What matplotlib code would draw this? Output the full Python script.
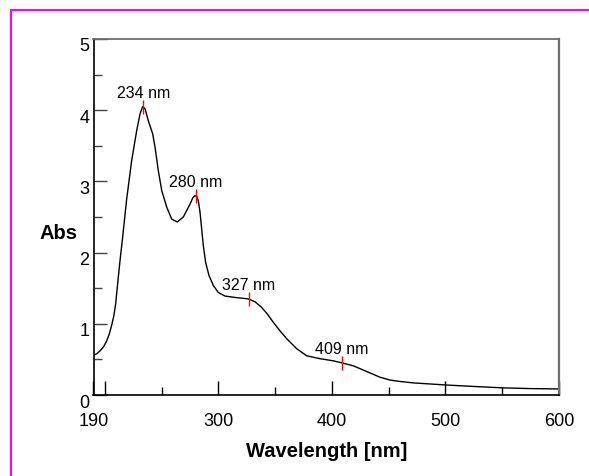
import matplotlib
matplotlib.use("Agg")
import matplotlib.pyplot as plt
import matplotlib.transforms as mtransforms
from matplotlib.patches import Rectangle

plt.rcParams['font.family'] = ['Liberation Sans', 'DejaVu Sans']

# spectrum
wavelength = [190, 193, 195.7, 199, 201.6, 204, 206, 208, 209.5, 211,
              213.3, 215.7, 219.2, 223.6, 228, 231, 233.3, 235.4, 238.3, 242.1,
              244.2, 247.1, 250.1, 254.5, 258.9, 263.8, 269.1, 275, 277.5, 279.4,
              281, 282.3, 283.8, 285.3, 286.7, 288.8, 291.7, 295.5, 299.9, 305.8,
              314.6, 326.3, 332.2, 338.1, 343, 348.4, 354.3, 360.2, 369, 377.8,
              389.5, 401.2, 409.1, 418.8, 430.6, 442.3, 451.1, 459.9, 471.7, 486.4,
              501, 525, 551, 575, 600]
absorb = [0.56, 0.58, 0.62, 0.68, 0.76, 0.86, 0.98, 1.12, 1.28, 1.52,
          1.88, 2.22, 2.75, 3.29, 3.71, 3.95, 4.05, 4.02, 3.85, 3.67,
          3.48, 3.15, 2.87, 2.64, 2.47, 2.43, 2.50, 2.68, 2.77, 2.80,
          2.79, 2.73, 2.57, 2.33, 2.10, 1.86, 1.68, 1.54, 1.44, 1.39,
          1.37, 1.35, 1.31, 1.23, 1.14, 1.02, 0.90, 0.79, 0.65, 0.55,
          0.51, 0.48, 0.45, 0.41, 0.33, 0.25, 0.21, 0.19, 0.17, 0.155,
          0.14, 0.12, 0.10, 0.09, 0.085]

peak_wl = [234, 280, 327, 409]
peak_abs = [4.05, 2.80, 1.35, 0.45]
peak_text = ['234 nm', '280 nm', '327 nm', '409 nm']

W, H = 589, 477
fig = plt.figure(figsize=(W / 100, H / 100), dpi=100)
ax = fig.add_axes([93.5 / W, 1 - 396 / H, (559 - 93.5) / W, (396 - 40) / H])

# magenta frame (only top and left edges are inside the picture)
fig.patches.append(Rectangle((10.5 / W, -0.1), 1.2, 1 - 11 / H + 0.1,
                             transform=fig.transFigure, fill=False,
                             edgecolor='#ff00ff', lw=1.5))

ax.plot(wavelength, absorb, color='black', lw=1.0, solid_joinstyle='round')
ax.plot(peak_wl, peak_abs, ls='none', marker='|', ms=10, mew=1.0, color='red')
for wl, a, t in zip(peak_wl, peak_abs, peak_text):
    ax.annotate(t, (wl, a), xytext=(0, 7), textcoords='offset points',
                ha='center', va='baseline', fontsize=11.5)

ax.set_xlim(190, 600)
ax.set_ylim(0, 5)

ax.set_xticks([190, 200, 300, 400, 500, 600])
ax.set_xticklabels(['190', '', '300', '400', '500', '600'])
ax.set_xticks([250, 350, 450, 550], minor=True)
ax.set_yticks([0, 1, 2, 3, 4, 5])
ax.set_yticks([0.5, 1.5, 2.5, 3.5, 4.5], minor=True)

ax.tick_params(axis='x', which='major', direction='in', length=10, width=1.0,
               labelsize=13, pad=12)
ax.tick_params(axis='x', which='minor', direction='in', length=6, width=1.0)
ax.tick_params(axis='y', which='major', direction='in', length=9, width=1.0,
               labelsize=13, pad=3, color='#444444')
ax.tick_params(axis='y', which='minor', direction='in', length=5.5, width=1.0,
               color='#444444')

off = mtransforms.ScaledTranslation(0, -5 / 100, fig.dpi_scale_trans)
for lab in ax.get_yticklabels():
    lab.set_transform(lab.get_transform() + off)

for s in ('left', 'bottom'):
    ax.spines[s].set_color('black')
    ax.spines[s].set_linewidth(1.2)
ax.spines['top'].set_color('#6e6e6e')
ax.spines['top'].set_linewidth(1.3)
ax.spines['right'].set_color('#6e6e6e')
ax.spines['right'].set_linewidth(1.6)

fig.text(59 / W, 1 - 234 / H, 'Abs', ha='center', va='center',
         fontsize=14.5, fontweight='bold')
fig.text(326.5 / W, 1 - 451.7 / H, 'Wavelength [nm]', ha='center', va='center',
         fontsize=14.5, fontweight='bold')

fig.savefig('out.png', dpi=100)
